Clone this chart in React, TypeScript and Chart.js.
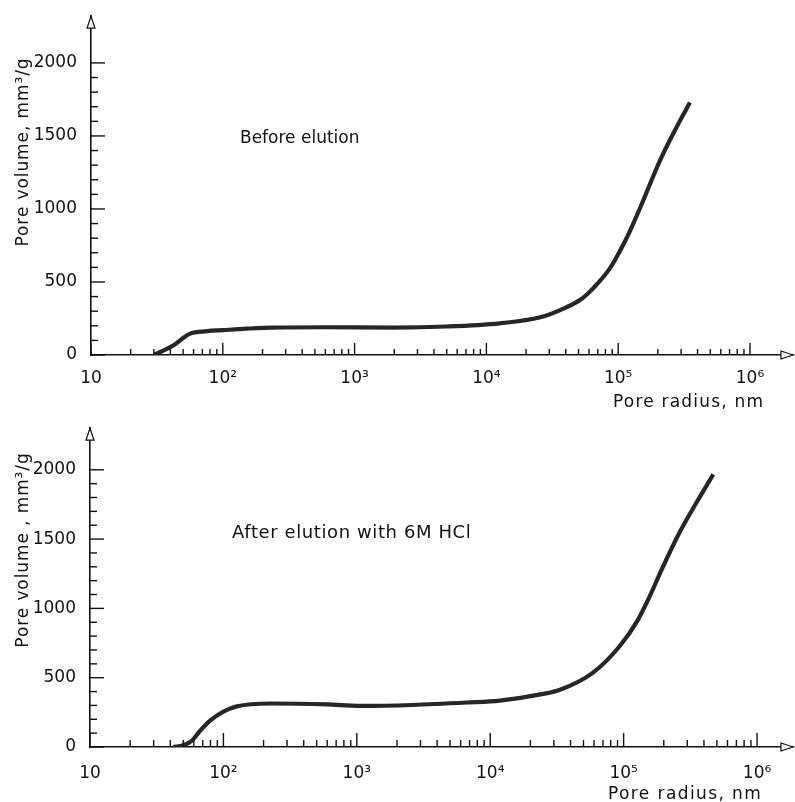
import React, { useEffect, useRef } from "react";
import { Chart, registerables } from "chart.js";
Chart.register(...registerables);

// ---- data ----
const topRadius = [30, 42, 56, 76, 100, 150, 240, 600, 2000, 5000, 12600, 25600, 40000, 52000, 65000, 87000, 110000, 123000, 146000, 207000, 279000, 350000];
const topVolume = [0, 65, 145, 163, 170, 180, 188, 190, 188, 195, 217, 258, 325, 380, 460, 597, 760, 850, 1003, 1330, 1565, 1729];

const bottomRadius = [42, 50, 58, 66, 79, 100, 126, 224, 600, 1050, 2600, 6700, 11800, 25000, 33000, 59000, 93000, 126000, 158000, 195000, 260000, 350000, 470000];
const bottomVolume = [0, 12, 45, 110, 188, 255, 293, 314, 307, 296, 303, 321, 335, 383, 411, 537, 725, 906, 1094, 1290, 1540, 1760, 1967];

const xMajorTicks = [10, 100, 1000, 10000, 100000, 1000000];
const xMajorLabels = ["10", "10²", "10³", "10⁴", "10⁵", "10⁶"];
const xMinorMultipliers = [2, 3, 4, 5, 6, 7, 8, 9];
const yTickValues = [0, 100, 200, 300, 400, 500, 600, 700, 800, 900, 1000, 1100, 1200, 1300, 1400, 1500, 1600, 1700, 1800, 1900, 2000];
const yLabelStep = 500;

const topNote = "Before elution";
const bottomNote = "After elution with 6M HCl";
const xTitle = "Pore radius, nm";
const topYTitle = "Pore volume, mm³/g";
const bottomYTitle = "Pore volume , mm³/g";

const FONT = '"DejaVu Sans", "Noto Sans", sans-serif';
const INK = "#111111";

function xTickValues(): number[] {
  const out: number[] = [];
  for (let i = 0; i < xMajorTicks.length; i++) {
    out.push(xMajorTicks[i]);
    if (i < xMajorTicks.length - 1) xMinorMultipliers.forEach((m) => out.push(xMajorTicks[i] * m));
  }
  return out.sort((a, b) => a - b);
}

function isMajorX(v: number) {
  return xMajorTicks.some((m) => Math.abs(m - v) / m < 1e-9);
}

type Panel = {
  radius: number[];
  volume: number[];
  left: number;
  padTop: number;
  xHeight: number;
  xMax: number;
  yMax: number;
  xLabelPad: number;
  xMajorLen: number;
  xMinorLen: number;
  yMajorLen: number;
  yMinorLen: number;
  note: string;
  noteX: number;
  noteY: number;
  noteSize: number;
  noteSpacing: number;
  yTitle: string;
  yTitleX: number;
  yTitleY: number;
  xTitleX: number;
  xTitleY: number;
  xTitleSpacing: number;
};

const decorPlugin = {
  id: "panelDecor",
  afterDraw(chart: any, _args: any, opts: any) {
    const p: Panel = opts.panel;
    const ctx = chart.ctx as CanvasRenderingContext2D;
    const xs = chart.scales.x;
    const ys = chart.scales.y;
    const { left, right, top, bottom } = chart.chartArea;
    ctx.save();
    ctx.strokeStyle = INK;
    ctx.lineWidth = 1.4;
    xs.ticks.forEach((t: any) => {
      const px = xs.getPixelForValue(t.value);
      const len = isMajorX(t.value) ? p.xMajorLen : p.xMinorLen;
      ctx.beginPath();
      ctx.moveTo(px, bottom);
      ctx.lineTo(px, bottom - len);
      ctx.stroke();
    });
    ys.ticks.forEach((t: any) => {
      const py = ys.getPixelForValue(t.value);
      const len = t.value % yLabelStep === 0 ? p.yMajorLen : p.yMinorLen;
      ctx.beginPath();
      ctx.moveTo(left, py);
      ctx.lineTo(left + len, py);
      ctx.stroke();
    });
    ctx.lineWidth = 1.2;
    ctx.fillStyle = "#ffffff";
    ctx.beginPath();
    ctx.moveTo(left, top);
    ctx.lineTo(left - 4, top + 12);
    ctx.lineTo(left + 4, top + 12);
    ctx.closePath();
    ctx.fill();
    ctx.stroke();
    ctx.beginPath();
    ctx.moveTo(right, bottom);
    ctx.lineTo(right - 12, bottom - 4);
    ctx.lineTo(right - 12, bottom + 4);
    ctx.closePath();
    ctx.fill();
    ctx.stroke();
    ctx.fillStyle = INK;
    ctx.textBaseline = "alphabetic";
    ctx.textAlign = "left";
    (ctx as any).letterSpacing = p.noteSpacing + "px";
    ctx.font = `${p.noteSize}px ${FONT}`;
    ctx.fillText(p.note, p.noteX, p.noteY);
    (ctx as any).letterSpacing = p.xTitleSpacing + "px";
    ctx.font = `17px ${FONT}`;
    ctx.fillText(xTitle, p.xTitleX, p.xTitleY);
    (ctx as any).letterSpacing = "0.9px";
    ctx.save();
    ctx.translate(p.yTitleX, p.yTitleY);
    ctx.rotate(-Math.PI / 2);
    ctx.textAlign = "center";
    ctx.fillText(p.yTitle, 0, 0);
    ctx.restore();
    (ctx as any).letterSpacing = "0px";
    ctx.restore();
  },
};

function buildChart(canvas: HTMLCanvasElement, p: Panel) {
  const pts = p.radius.map((r, i) => ({ x: r, y: p.volume[i] }));
  return new Chart(canvas, {
    type: "line",
    data: {
      datasets: [
        { data: pts, borderColor: "#262626", borderWidth: 4.2, pointRadius: 0, cubicInterpolationMode: "monotone", fill: false },
        { data: pts, borderColor: "#c4c4c4", borderWidth: 1.6, pointRadius: 0, cubicInterpolationMode: "monotone", fill: false },
      ],
    },
    options: {
      animation: false,
      responsive: false,
      devicePixelRatio: 1,
      layout: { padding: { top: p.padTop, right: 2, left: 0, bottom: 0 } },
      plugins: {
        legend: { display: false },
        tooltip: { enabled: false },
        panelDecor: { panel: p },
      } as any,
      scales: {
        x: {
          type: "logarithmic",
          min: 10,
          max: p.xMax,
          afterBuildTicks: (s: any) => {
            s.ticks = xTickValues().map((v) => ({ value: v }));
          },
          afterFit: (s: any) => {
            s.height = p.xHeight;
          },
          grid: { display: false },
          border: { display: true, color: INK, width: 1.6 },
          ticks: {
            autoSkip: false,
            maxRotation: 0,
            minRotation: 0,
            padding: p.xLabelPad,
            color: INK,
            font: { family: FONT, size: 17 },
            callback: (v: any) => {
              const idx = xMajorTicks.findIndex((m) => Math.abs(m - Number(v)) / m < 1e-9);
              return idx >= 0 ? xMajorLabels[idx] : "";
            },
          },
        },
        y: {
          type: "linear",
          min: 0,
          max: p.yMax,
          afterBuildTicks: (s: any) => {
            s.ticks = yTickValues.map((v) => ({ value: v }));
          },
          afterFit: (s: any) => {
            s.width = p.left;
          },
          grid: { display: false },
          border: { display: true, color: INK, width: 1.6 },
          ticks: {
            autoSkip: false,
            padding: 6,
            color: INK,
            font: { family: FONT, size: 17 },
            callback: (v: any) => (Number(v) % yLabelStep === 0 ? String(v) : ""),
          },
        },
      },
    } as any,
    plugins: [decorPlugin],
  });
}

const topPanel: Panel = {
  radius: topRadius,
  volume: topVolume,
  left: 91,
  padTop: 13,
  xHeight: 57,
  xMax: 2.12e6,
  yMax: 2320,
  xLabelPad: 5,
  xMajorLen: 12,
  xMinorLen: 6,
  yMajorLen: 14,
  yMinorLen: 7,
  note: topNote,
  noteX: 240,
  noteY: 143,
  noteSize: 17,
  noteSpacing: 0,
  yTitle: topYTitle,
  yTitleX: 28,
  yTitleY: 152,
  xTitleX: 613,
  xTitleY: 407,
  xTitleSpacing: 1.2,
};

const bottomPanel: Panel = {
  radius: bottomRadius,
  volume: bottomVolume,
  left: 90,
  padTop: 5,
  xHeight: 55,
  xMax: 1.86e6,
  yMax: 2300,
  xLabelPad: 8,
  xMajorLen: 14,
  xMinorLen: 7,
  yMajorLen: 14,
  yMinorLen: 7,
  note: bottomNote,
  noteX: 232,
  noteY: 126,
  noteSize: 18,
  noteSpacing: 0.6,
  yTitle: bottomYTitle,
  yTitleX: 28,
  yTitleY: 138,
  xTitleX: 608,
  xTitleY: 387,
  xTitleSpacing: 1.4,
};

export default function App() {
  const topRef = useRef<HTMLCanvasElement>(null);
  const botRef = useRef<HTMLCanvasElement>(null);
  useEffect(() => {
    const a = buildChart(topRef.current!, topPanel);
    const b = buildChart(botRef.current!, bottomPanel);
    return () => {
      a.destroy();
      b.destroy();
    };
  }, []);
  return (
    <div style={{ position: "fixed", left: 0, top: 0, width: 795, height: 802, background: "#fff" }}>
      <canvas ref={topRef} width={795} height={412} style={{ position: "absolute", left: 0, top: 0, width: 795, height: 412 }} />
      <canvas ref={botRef} width={795} height={390} style={{ position: "absolute", left: 0, top: 412, width: 795, height: 390 }} />
    </div>
  );
}
